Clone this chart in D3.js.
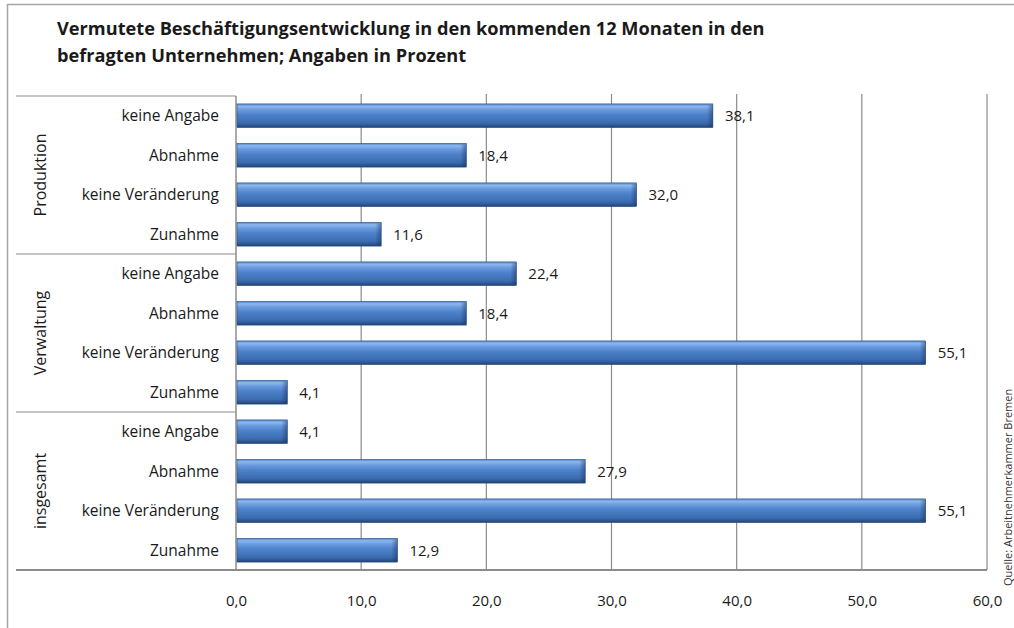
<!DOCTYPE html>
<html><head><meta charset="utf-8">
<script src="https://cdn.jsdelivr.net/npm/d3@7"></script>
<style>body{margin:0;background:#fff}svg{display:block}</style>
</head><body><svg id="c" width="1014" height="628"></svg>
<script>
const title = ["Vermutete Beschäftigungsentwicklung in den kommenden 12 Monaten in den",
               "befragten Unternehmen; Angaben in Prozent"];
const groups = ["Produktion", "Verwaltung", "insgesamt"];
const categories = ["keine Angabe", "Abnahme", "keine Veränderung", "Zunahme"];
const produktion = [38.1, 18.4, 32.0, 11.6];
const verwaltung = [22.4, 18.4, 55.1, 4.1];
const insgesamt  = [4.1, 27.9, 55.1, 12.9];
const ticks = [0, 10, 20, 30, 40, 50, 60];
const source = "Quelle: Arbeitnehmerkammer Bremen";

const seriesByGroup = [produktion, verwaltung, insgesamt];
const rows = [];
groups.forEach((g, gi) => categories.forEach((c, ci) => rows.push({g, c, v: seriesByGroup[gi][ci], key: g + "|" + c})));

const svg = d3.select("#c");
const font = "'Open Sans', sans-serif";
const L = 236, R = 987, T = 96, B = 570;
const x = d3.scaleLinear().domain([0, 60]).range([L, R]);
const y = d3.scaleBand().domain(rows.map(r => r.key)).range([T, B]).paddingInner(0.4).paddingOuter(0.2);

const defs = svg.append("defs");
const gr = defs.append("linearGradient").attr("id", "bar").attr("x1", 0).attr("y1", 0).attr("x2", 0).attr("y2", 1);
[[0, "#4f82c8"], [0.1, "#8db8ee"], [0.25, "#6a9ade"], [0.45, "#4d82c9"], [0.8, "#3b6cb0"], [0.92, "#2c5590"], [1, "#1f3f6e"]]
  .forEach(([o, c]) => gr.append("stop").attr("offset", o).attr("stop-color", c));
const gr2 = defs.append("linearGradient").attr("id", "end").attr("x1", 0).attr("y1", 0).attr("x2", 1).attr("y2", 0);
[[0, "rgba(20,40,80,0)"], [1, "rgba(20,40,80,0.45)"]].forEach(([o, c]) => gr2.append("stop").attr("offset", o).attr("stop-color", c));

// outer frame
svg.append("path").attr("d", "M7.5,628 V4.5 H1014").attr("fill", "none").attr("stroke", "#a6a6a6").attr("stroke-width", 1.5);

// title
svg.append("text").attr("font-family", font).attr("font-weight", "bold").attr("font-size", 18.2).attr("fill", "#1a1a1a")
  .selectAll("tspan").data(title).join("tspan").attr("x", 57).attr("y", (d, i) => 35 + i * 27).text(d => d);

// grid lines
svg.append("g").selectAll("line").data(ticks.slice(1)).join("line")
  .attr("x1", d => x(d)).attr("x2", d => x(d)).attr("y1", T - 2).attr("y2", B)
  .attr("stroke", "#8c8c8c").attr("stroke-width", 1.2);

// left category table lines
const sep = [T, T + (B - T) / 3, T + 2 * (B - T) / 3];
svg.append("g").selectAll("line").data(sep).join("line")
  .attr("x1", 16).attr("x2", L).attr("y1", d => d).attr("y2", d => d)
  .attr("stroke", "#8c8c8c").attr("stroke-width", 1.2);
svg.append("line").attr("x1", L).attr("x2", L).attr("y1", T).attr("y2", B).attr("stroke", "#8c8c8c").attr("stroke-width", 1.5);
svg.append("line").attr("x1", 16).attr("x2", R).attr("y1", B).attr("y2", B).attr("stroke", "#8c8c8c").attr("stroke-width", 2);

// x axis labels
const xa = svg.append("g").attr("transform", `translate(0,${B})`).call(d3.axisBottom(x).tickValues(ticks).tickSize(0).tickFormat(d => d3.format(".1f")(d).replace(".", ",")));
xa.select(".domain").remove();
xa.selectAll("text").attr("font-family", font).attr("font-size", 15).attr("fill", "#1a1a1a").attr("dy", "0").attr("y", 36);

// bars
const bars = svg.append("g").selectAll("g").data(rows).join("g");
bars.append("rect").attr("x", L + 1).attr("y", d => y(d.key)).attr("width", d => x(d.v) - L - 1).attr("height", y.bandwidth())
  .attr("fill", "url(#bar)").attr("stroke", "#2a4f86").attr("stroke-width", 0.6);
bars.append("rect").attr("x", d => x(d.v) - 6).attr("y", d => y(d.key) + 1).attr("width", 6).attr("height", y.bandwidth() - 2)
  .attr("fill", "url(#end)");
bars.append("text").attr("x", d => x(d.v) + 12).attr("y", d => y(d.key) + y.bandwidth() / 2).attr("dy", "0.36em")
  .attr("font-family", font).attr("font-size", 15).attr("fill", "#1a1a1a")
  .text(d => d3.format(".1f")(d.v).replace(".", ","));

// category labels
svg.append("g").selectAll("text").data(rows).join("text")
  .attr("x", 219).attr("y", d => y(d.key) + y.bandwidth() / 2).attr("dy", "0.36em").attr("text-anchor", "end")
  .attr("font-family", font).attr("font-size", 15.5).attr("fill", "#1a1a1a").text(d => d.c);

// group labels
svg.append("g").selectAll("text").data(groups).join("text")
  .attr("transform", (d, i) => `translate(46,${sep[i] + (B - T) / 6}) rotate(-90)`)
  .attr("text-anchor", "middle").attr("font-family", font).attr("font-size", 16).attr("fill", "#1a1a1a").text(d => d);

// source
svg.append("text").attr("transform", "translate(1012,586) rotate(-90)").attr("font-family", font).attr("font-size", 11)
  .attr("fill", "#333").text(source);
</script></body></html>
